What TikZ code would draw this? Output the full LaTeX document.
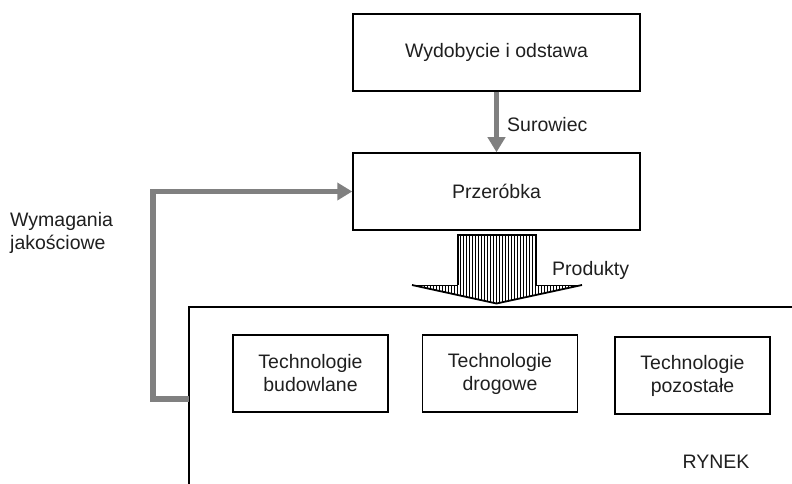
\documentclass[tikz,border=0pt]{standalone}
\usepackage{fontspec}
\setmainfont{Liberation Sans}
\usetikzlibrary{arrows.meta}
\definecolor{arrgray}{RGB}{128,128,128}
\begin{document}
\begin{tikzpicture}[x=1pt,y=-1pt,
  txt/.style={font=\fontsize{19.5}{23}\selectfont, inner sep=0pt, align=center, text=black!88},
  box/.style={txt, draw=black, line width=1.5pt},
  bigbox/.style={box, minimum width=287pt, minimum height=77pt},
  techbox/.style={box, minimum width=155pt, minimum height=77pt},
  lbl/.style={txt, align=left},
  garrow/.style={draw=arrgray, line width=5.5pt, -{Triangle[width=17pt,length=15pt]}},
  edge/.style={draw=black, line width=1.5pt}
]
\useasboundingbox (0,0) rectangle (792,484);
% main boxes
\node[bigbox] (wyd) at (496.5,52.5) {Wydobycie i odstawa};
\node[bigbox] (prz) at (496.5,191.5) {Przeróbka};
% market frame
\coordinate (rbl) at (189,484);
\coordinate (rtl) at (189,307);
\coordinate (rtr) at (792,307);
\coordinate (rfb) at (189,399);
\draw[edge] (rbl) -- (rtl) -- (rtr);
% technology boxes
\node[techbox] (bud) at (310.5,373.5) {Technologie\\budowlane};
\node[techbox] (dro) at (500,373.5) {Technologie\\drogowe};
\node[techbox] (poz) at (692.5,375.5) {Technologie\\pozostałe};
\node[txt] (rynek) at (716,462) {RYNEK};
% raw material arrow
\draw[garrow] (wyd.south) -- (prz.north);
\node[lbl, anchor=west] (sur) at (507,125) {Surowiec};
% feedback arrow
\draw[garrow] (rfb) -- (153,399) |- (prz.west);
\node[lbl, anchor=west] (wym) at (10,233) {Wymagania\\jakościowe};
% product arrow (hatched)
\begin{scope}
  \clip (458,235) -- (536,235) -- (536,285) -- (582,285) -- (496.5,303.5) -- (412,285) -- (458,285) -- cycle;
  \foreach \i in {0,...,58} \draw[line width=1.8pt] (412.5+3*\i,230) -- ++(0,80);
\end{scope}
\draw[line width=1.3pt, line join=miter] (458,285) -- (458,235) -- (536,235) -- (536,285);
\draw[line width=1.8pt, line join=miter] (412,285) -- (496.5,303.5) -- (582,285);
\draw[line width=0.8pt] (412,285) -- (458,285) (536,285) -- (582,285);
\node[lbl, anchor=west] (prod) at (552,270) {Produkty};
\end{tikzpicture}
\end{document}
